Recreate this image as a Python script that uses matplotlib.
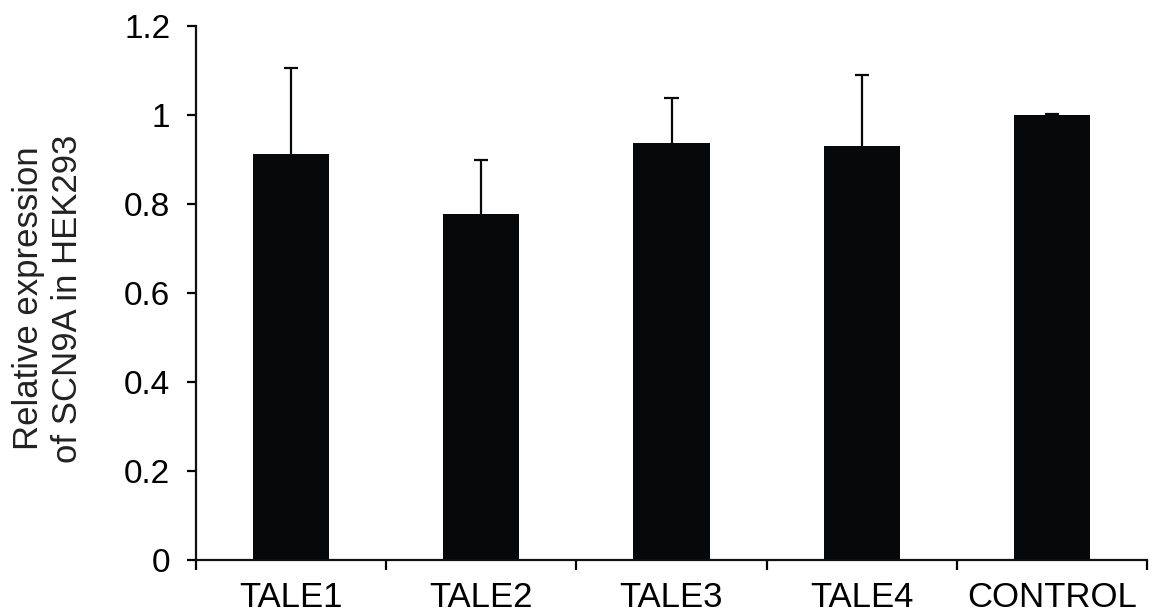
import matplotlib
matplotlib.use("Agg")
import matplotlib.pyplot as plt
import numpy as np

plt.rcParams['font.family'] = ['Liberation Sans', 'DejaVu Sans']

categories = ["TALE1", "TALE2", "TALE3", "TALE4", "CONTROL"]
values = [0.912, 0.777, 0.937, 0.930, 0.999]
upper_err = [0.193, 0.122, 0.101, 0.160, 0.003]
y_ticks = [0, 0.2, 0.4, 0.6, 0.8, 1.0, 1.2]
y_tick_labels = ["0", "0.2", "0.4", "0.6", "0.8", "1", "1.2"]

fig = plt.figure(figsize=(11.55, 6.15), dpi=100)
ax = fig.add_axes([196 / 1155, 55 / 615, (1147 - 196) / 1155, (560 - 26) / 615])

x = np.arange(len(categories))
tops = np.array(values) + np.array(upper_err)
bar_color = '#060809'
ax.bar(x, values, width=0.4, color=bar_color, zorder=2)
# upper-only error bars: stem from bar top, cap at the end
ax.vlines(x, values, tops, color=bar_color, linewidth=1.6, zorder=1)
ax.hlines(tops, x - 0.037, x + 0.037, color=bar_color, linewidth=1.6, zorder=1)

ax.set_xlim(-0.5, len(categories) - 0.5)
ax.set_ylim(0, 1.2)

# y axis
ax.set_yticks(y_ticks)
ax.set_yticklabels(y_tick_labels)
ax.tick_params(axis='y', direction='out', length=6.5, width=1.6, labelsize=24, pad=12)

# x axis: labels at centres, tick marks at boundaries
ax.set_xticks(x)
ax.set_xticklabels(categories)
ax.set_xticks(np.arange(len(categories) + 1) - 0.5, minor=True)
ax.tick_params(axis='x', which='major', length=0, labelsize=25, pad=15)
ax.tick_params(axis='x', which='minor', direction='out', length=7, width=1.6)

for side in ['top', 'right']:
    ax.spines[side].set_visible(False)
for side in ['left', 'bottom']:
    ax.spines[side].set_linewidth(1.6)
    ax.spines[side].set_color('#111111')

ax.set_ylabel("Relative expression\nof SCN9A in HEK293", fontsize=25,
              color='#222222', linespacing=1.22)
ax.yaxis.set_label_coords(-0.118, 0.49)

fig.savefig("out.png", dpi=100)
